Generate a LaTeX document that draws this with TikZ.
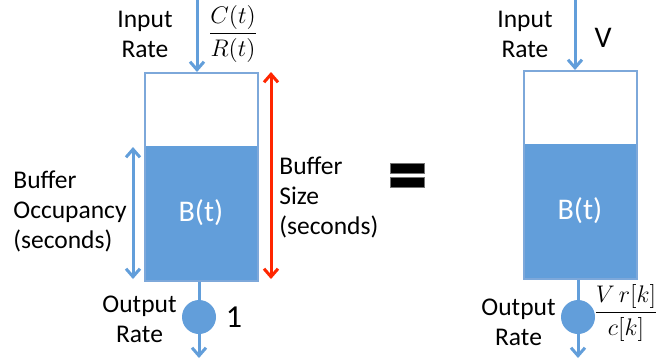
\documentclass[tikz,border=0pt]{standalone}
\usepackage{fontspec}
\usepackage{amsmath}
\setmainfont{Carlito}
\usetikzlibrary{arrows.meta}
\definecolor{tankblue}{RGB}{98,158,218}
\definecolor{rimblue}{RGB}{125,168,218}
\definecolor{sizered}{RGB}{255,38,0}

\begin{document}
\begin{tikzpicture}[
  x=0.5pt, y=-0.5pt,
  txt/.style={align=center, inner sep=0pt, font=\fontsize{12.75}{15}\selectfont},
  big/.style={inner sep=0pt, font=\fontsize{15}{18}\selectfont},
  rate/.style={inner sep=0pt, font=\fontsize{11.5}{13}\selectfont},
  tank/.style={rectangle, draw=rimblue, line width=0.8pt, minimum width=56.5pt, minimum height=104pt, inner sep=0pt},
  level/.style={rectangle, fill=tankblue, minimum width=56.5pt, minimum height=67pt, inner sep=0pt, text=white, font=\fontsize{15}{18}\selectfont},
  valve/.style={circle, fill=tankblue, minimum size=17pt, inner sep=0pt},
  bar/.style={rectangle, fill=black, draw=black!55, line width=0.4pt, minimum width=17pt, minimum height=5pt, inner sep=0pt},
  pipe/.style={draw=tankblue, line width=1.5pt},
  flow/.style={pipe, -{Straight Barb[length=4pt,width=7pt,line width=1.5pt]}},
  span/.style={line width=1.5pt, {Straight Barb[length=4pt,width=7pt,line width=1.5pt]}-{Straight Barb[length=4pt,width=7pt,line width=1.5pt]}}
]
\useasboundingbox (0,0) rectangle (657,360);

% left buffer
\node[level, anchor=south west] (levelA) at (144,280) {B(t)};
\node[tank, anchor=north west] (tankA) at (144,72) {};
\coordinate (inA) at (197,0);
\draw[flow] (inA) -- (inA |- tankA.north);
\node[txt] (inRateA) at (145,34) {Input\\Rate};
\node[rate] (fracA) at (233,34) {$\dfrac{C(t)}{R(t)}$};
\node[valve] (valveA) at (199,317) {};
\draw[pipe] (valveA |- tankA.south) -- (valveA);
\coordinate (outA) at (199,358);
\draw[flow] (valveA) -- (outA);
\node[txt, anchor=east] (outRateA) at (177,319) {Output\\Rate};
\node[big, font=\fontsize{16}{18}\selectfont] (oneA) at (234,317) {1};

% occupancy and size
\coordinate (occTop) at (133,147);
\coordinate (occBot) at (133,279);
\draw[span, draw=tankblue] (occTop) -- (occBot);
\node[txt, align=left, anchor=west] (occLabel) at (13,211) {Buffer\\Occupancy\\(seconds)};
\coordinate (sizeTop) at (271,72);
\coordinate (sizeBot) at (271,279);
\draw[span, draw=sizered] (sizeTop) -- (sizeBot);
\node[txt, align=left, anchor=west] (sizeLabel) at (279,197) {Buffer\\Size\\(seconds)};

% equals
\node[bar] (eqTop) at (407,168) {};
\node[bar] (eqBot) at (407,182) {};

% right buffer
\node[level, anchor=south west] (levelB) at (523,278) {B(t)};
\node[tank, anchor=north west] (tankB) at (523,70) {};
\coordinate (inB) at (575,0);
\draw[flow] (inB) -- (inB |- tankB.north);
\node[txt] (inRateB) at (525,34) {Input\\Rate};
\node[big] (vB) at (603,38) {V};
\node[valve] (valveB) at (578,317) {};
\draw[pipe] (valveB |- tankB.south) -- (valveB);
\coordinate (outB) at (578,358);
\draw[flow] (valveB) -- (outB);
\node[txt, anchor=east] (outRateB) at (556,322) {Output\\Rate};
\node[rate] (fracB) at (626,313) {$\dfrac{V\,r[k]}{c[k]}$};
\end{tikzpicture}
\end{document}
